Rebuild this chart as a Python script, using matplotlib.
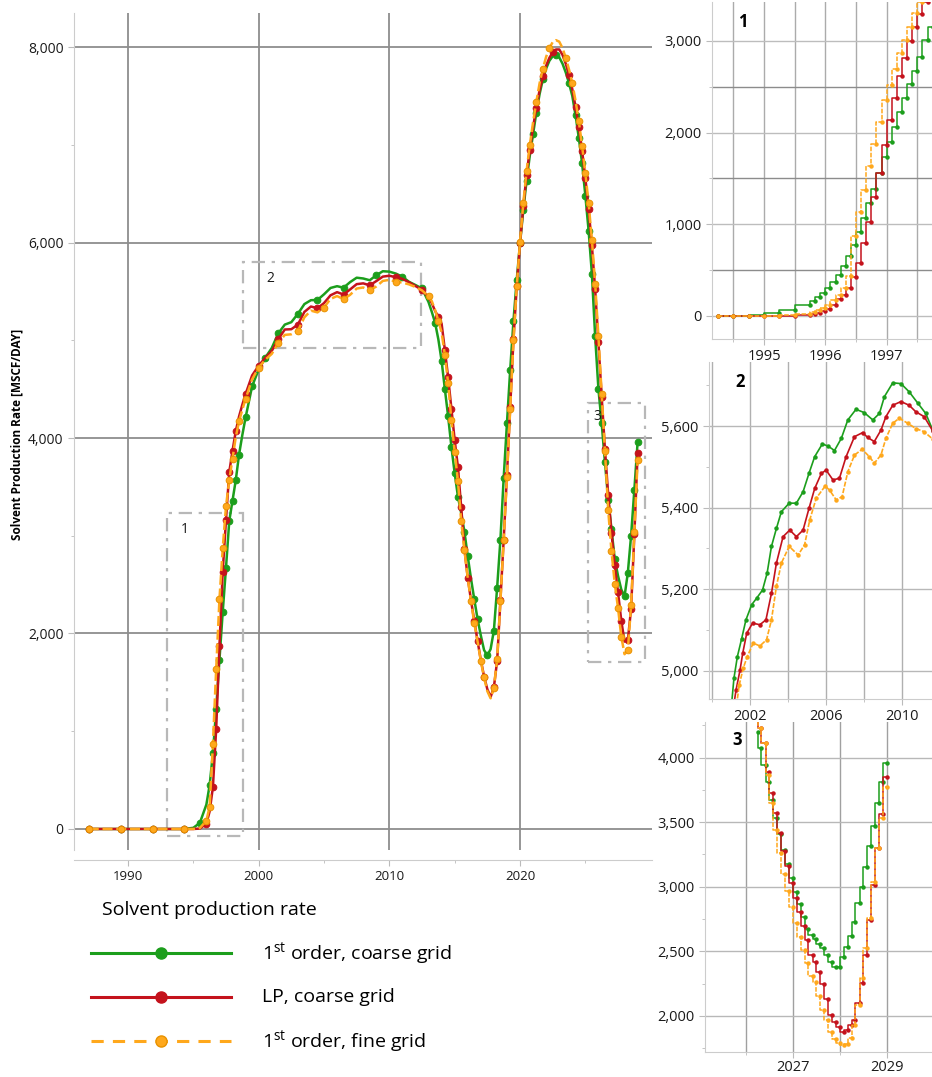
import matplotlib
matplotlib.use("Agg")
import matplotlib.pyplot as plt
from matplotlib.lines import Line2D
from matplotlib.patches import Rectangle
from matplotlib.ticker import MultipleLocator, FixedLocator, StrMethodFormatter

plt.rcParams['font.family'] = ['Open Sans', 'DejaVu Sans']
plt.rcParams['mathtext.fontset'] = 'custom'
plt.rcParams['mathtext.rm'] = 'Open Sans'
plt.rcParams['mathtext.it'] = 'Open Sans:italic'
plt.rcParams['mathtext.bf'] = 'Open Sans:bold'

# ---- main panel data (rate in MSCF/DAY) ----
years = [1987.0, 1989.5, 1991.9, 1994.3,
         1995.0, 1995.5, 1996.0, 1996.25, 1996.5, 1996.75, 1997.0, 1997.25, 1997.5, 1997.75,
         1998.0, 1998.25, 1998.5, 1998.75, 1999.0, 1999.5, 2000.0, 2000.5,
         2001.0, 2001.5, 2002.0, 2002.5, 2003.0, 2003.5, 2004.0, 2004.5, 2005.0, 2005.5,
         2006.0, 2006.5, 2007.0, 2007.5, 2008.0, 2008.5, 2009.0, 2009.5, 2010.0, 2010.5,
         2011.0, 2011.5, 2012.0, 2012.5, 2013.0, 2013.25, 2013.5, 2013.75,
         2014.0, 2014.25, 2014.5, 2014.75, 2015.0, 2015.25, 2015.5, 2015.75,
         2016.0, 2016.25, 2016.5, 2016.75, 2017.0, 2017.25, 2017.5, 2017.75,
         2018.0, 2018.25, 2018.5, 2018.75, 2019.0, 2019.25, 2019.5, 2019.75,
         2020.0, 2020.25, 2020.5, 2020.75, 2021.0, 2021.25, 2021.5, 2021.75,
         2022.0, 2022.25, 2022.5, 2022.75, 2023.0, 2023.25, 2023.5, 2023.75,
         2024.0, 2024.25, 2024.5, 2024.75, 2025.0, 2025.25, 2025.5, 2025.75,
         2026.0, 2026.25, 2026.5, 2026.75, 2027.0, 2027.25, 2027.5, 2027.75,
         2028.0, 2028.25, 2028.5, 2028.75, 2029.0]

first_coarse = [0, 0, 0, 0,
                12, 62, 250, 450, 775, 1230, 1730, 2220, 2670, 3150,
                3360, 3570, 3830, 4030, 4210, 4530, 4700, 4820,
                4920, 5070, 5160, 5185, 5270, 5370, 5410, 5412, 5470, 5535,
                5553, 5538, 5595, 5640, 5632, 5614, 5665, 5706, 5702, 5682,
                5650, 5598, 5565, 5530, 5390, 5290, 5180, 5010,
                4790, 4500, 4220, 3910, 3640, 3400, 3230, 3040,
                2790, 2560, 2350, 2150, 1980, 1830, 1775, 1840,
                2030, 2470, 2960, 3590, 4150, 4700, 5200, 5620,
                5990, 6330, 6630, 6890, 7110, 7330, 7520, 7670,
                7780, 7860, 7905, 7920, 7895, 7830, 7740, 7630,
                7500, 7300, 7070, 6810, 6480, 6120, 5680, 5040,
                4500, 4150, 3750, 3370, 3066, 2760, 2590, 2450,
                2382, 2620, 3001, 3471, 3961]

lp_coarse = [0, 0, 0, 0,
             0, 4, 55, 180, 430, 1022, 1870, 2630, 3160, 3650,
             3870, 4070, 4220, 4340, 4450, 4640, 4740, 4820,
             4890, 5010, 5110, 5113, 5160, 5290, 5345, 5328, 5380, 5460,
             5492, 5468, 5520, 5574, 5582, 5562, 5605, 5651, 5660, 5645,
             5628, 5594, 5555, 5515, 5440, 5380, 5300, 5240,
             5170, 4900, 4620, 4300, 3980, 3700, 3290, 2860,
             2570, 2340, 2130, 1925, 1730, 1560, 1430, 1350,
             1450, 1720, 2340, 2960, 3620, 4320, 5010, 5550,
             5990, 6370, 6690, 6950, 7180, 7380, 7560, 7700,
             7810, 7890, 7945, 7975, 7975, 7920, 7830, 7710,
             7570, 7390, 7180, 6940, 6660, 6340, 5970, 5520,
             4980, 4420, 3886, 3414, 3032, 2697, 2420, 2130,
             1917, 1930, 2253, 3014, 3848]

first_fine = [0, 0, 0, 0,
              0, 10, 85, 230, 870, 1635, 2350, 2870, 3300, 3570,
              3790, 4010, 4170, 4290, 4400, 4600, 4720, 4800,
              4860, 4970, 5055, 5061, 5095, 5235, 5303, 5285, 5335, 5423,
              5452, 5420, 5465, 5529, 5540, 5510, 5550, 5607, 5618, 5600,
              5590, 5572, 5545, 5510, 5450, 5400, 5310, 5200,
              5080, 4850, 4560, 4180, 3860, 3560, 3150, 2850,
              2570, 2330, 2110, 1920, 1720, 1550, 1410, 1337,
              1440, 1740, 2330, 2960, 3600, 4300, 5000, 5550,
              6010, 6400, 6730, 7000, 7230, 7440, 7630, 7780,
              7900, 7990, 8050, 8070, 8055, 7990, 7890, 7770,
              7630, 7450, 7240, 6990, 6710, 6400, 6030, 5580,
              5040, 4450, 3866, 3259, 2841, 2511, 2260, 1969,
              1788, 1827, 2291, 3035, 3775]

# ---- zoom 1: start of production (step data) ----
years_z1 = [1994.25, 1994.5, 1994.75, 1995.0, 1995.25, 1995.5, 1995.75,
            1995.83, 1995.92, 1996.0, 1996.08, 1996.17, 1996.25, 1996.33, 1996.42, 1996.5, 1996.58,
            1996.67, 1996.75, 1996.83, 1996.92, 1997.0, 1997.08, 1997.17, 1997.25, 1997.33, 1997.42,
            1997.5, 1997.58, 1997.67, 1997.75]
first_coarse_z1 = [0, 0, 3, 12, 30, 62, 118,
                   160, 205, 250, 305, 370, 450, 540, 650, 775, 920,
                   1065, 1230, 1390, 1560, 1730, 1900, 2060, 2220, 2380, 2530,
                   2670, 2820, 3010, 3150]
lp_coarse_z1 = [0, 0, 0, 0, 1, 4, 15,
                25, 38, 55, 80, 120, 180, 230, 300, 430, 580,
                800, 1022, 1296, 1560, 1860, 2140, 2380, 2620, 2810, 3000,
                3150, 3290, 3420, 3550]
first_fine_z1 = [0, 0, 0, 0, 2, 8, 25,
                 40, 60, 85, 120, 170, 230, 310, 440, 876, 1131,
                 1376, 1635, 1880, 2117, 2354, 2518, 2694, 2865, 3011, 3157,
                 3303, 3430, 3560, 3690]

# ---- zoom 2: plateau ----
years_z2_first_coarse = [2001.0, 2001.16, 2001.34, 2001.56, 2001.79, 2002.09, 2002.35, 2002.66, 2002.9,
                         2003.13, 2003.39, 2003.65, 2004.06, 2004.44, 2004.79, 2005.1, 2005.4, 2005.8,
                         2006.1, 2006.44, 2006.8, 2007.14, 2007.57, 2008.0, 2008.45, 2008.8, 2009.06,
                         2009.5, 2009.93, 2010.36, 2010.8, 2011.23, 2011.6]
first_coarse_z2 = [4900, 4982, 5035, 5078, 5125, 5162, 5178, 5198, 5239,
                   5305, 5349, 5390, 5411, 5411, 5439, 5484, 5525, 5556,
                   5551, 5540, 5570, 5615, 5641, 5633, 5615, 5631, 5672,
                   5706, 5704, 5684, 5657, 5631, 5590]
years_z2_lp_coarse = [2001.1, 2001.27, 2001.48, 2001.62, 2001.83, 2002.14, 2002.52, 2002.84, 2003.13,
                      2003.39, 2003.74, 2004.09, 2004.44, 2004.79, 2005.1, 2005.4, 2005.75, 2006.0,
                      2006.36, 2006.7, 2007.05, 2007.49, 2007.92, 2008.18, 2008.53, 2008.88, 2009.14,
                      2009.5, 2009.93, 2010.36, 2010.71, 2011.15, 2011.6]
lp_coarse_z2 = [4900, 4953, 5002, 5043, 5092, 5117, 5113, 5125, 5190,
                5264, 5329, 5345, 5329, 5345, 5398, 5447, 5484, 5492,
                5468, 5472, 5525, 5574, 5584, 5572, 5562, 5590, 5623,
                5651, 5660, 5651, 5635, 5623, 5588]
years_z2_first_fine = [2001.25, 2001.44, 2001.65, 2001.86, 2002.17, 2002.52, 2002.87, 2003.13, 2003.39,
                       2003.65, 2004.06, 2004.53, 2004.87, 2005.14, 2005.48, 2005.95, 2006.18, 2006.53,
                       2006.84, 2007.14, 2007.49, 2007.89, 2008.27, 2008.53, 2008.88, 2009.14, 2009.5,
                       2009.84, 2010.28, 2010.71, 2011.15, 2011.6]
first_fine_z2 = [4900, 4966, 5007, 5035, 5068, 5061, 5076, 5125, 5207,
                 5264, 5305, 5284, 5309, 5370, 5423, 5453, 5443, 5419,
                 5427, 5488, 5529, 5543, 5525, 5509, 5529, 5570, 5607,
                 5619, 5607, 5594, 5586, 5568]

# ---- zoom 3: second trough ----
years_z3 = [2026.25, 2026.33, 2026.42, 2026.5, 2026.58, 2026.67, 2026.75, 2026.83, 2026.92, 2027.0,
            2027.08, 2027.17, 2027.25, 2027.33, 2027.42, 2027.5, 2027.58, 2027.67, 2027.75, 2027.83,
            2027.92, 2028.0, 2028.08, 2028.17, 2028.25, 2028.33, 2028.42, 2028.5, 2028.58, 2028.67,
            2028.75, 2028.83, 2028.92, 2029.0]
first_coarse_z3 = [4200, 4072, 3943, 3814, 3672, 3530, 3409, 3285, 3177, 3066,
                   2957, 2864, 2764, 2673, 2630, 2596, 2560, 2524, 2470, 2415,
                   2376, 2382, 2459, 2537, 2620, 2730, 2877, 3001, 3156, 3316,
                   3471, 3646, 3809, 3961]
lp_coarse_z3 = [4380, 4230, 4111, 3886, 3724, 3569, 3414, 3277, 3164, 3032,
                2916, 2808, 2697, 2588, 2472, 2420, 2340, 2250, 2130, 2010,
                1950, 1917, 1878, 1891, 1930, 1969, 2098, 2253, 2472, 2743,
                3014, 3298, 3564, 3848]
first_fine_z3 = [4380, 4230, 4111, 3866, 3646, 3440, 3259, 3099, 2970, 2841,
                 2717, 2609, 2511, 2407, 2309, 2260, 2150, 2046, 1969, 1878,
                 1820, 1788, 1775, 1780, 1827, 1930, 2085, 2291, 2524, 2756,
                 3035, 3298, 3535, 3775]

# zoom windows marked on the main panel: label, x0, x1, y0, y1
zoom_boxes = [("1", 1993.0, 1998.8, -70, 3230),
              ("2", 1998.8, 2012.4, 4920, 5800),
              ("3", 2025.2, 2029.6, 1710, 4360)]
box_label_offsets = [(13, -12), (20, -12), (7, -10)]

labels = ["1$^{\\mathrm{st}}$ order, coarse grid", "LP, coarse grid", "1$^{\\mathrm{st}}$ order, fine grid"]
colors = ["#1c9e1c", "#c4121c", "#ffa81c"]
edge_colors = ["#1c9e1c", "#c4121c", "#e89200"]
styles = ["-", "-", (0, (4, 1.5))]

W, H = 932, 1077


def px_rect(x0, x1, y0, y1):
    return [x0 / W, 1 - y1 / H, (x1 - x0) / W, (y1 - y0) / H]


def style_axes(ax, labelsize):
    for s in ["top", "right"]:
        ax.spines[s].set_visible(False)
    for s in ["left", "bottom"]:
        ax.spines[s].set_color("#cccccc")
    ax.tick_params(which="both", colors="#bbbbbb", labelcolor="#1a1a1a",
                   labelsize=labelsize, length=4)
    ax.tick_params(which="minor", length=2.5)
    ax.yaxis.set_major_formatter(StrMethodFormatter("{x:,.0f}"))
    ax.set_axisbelow(True)


fig = plt.figure(figsize=(W / 100, H / 100), dpi=100)

# ---------------- main panel ----------------
ax = fig.add_axes(px_rect(74, 652, 13, 850))
style_axes(ax, 10)
ax.spines["bottom"].set_position(("outward", 7))
ax.set_xlim(1985.87, 2030.1)
ax.set_ylim(-215, 8348)
ax.xaxis.set_major_locator(FixedLocator([1990, 2000, 2010, 2020]))
ax.xaxis.set_minor_locator(FixedLocator([1995, 2005, 2015, 2025]))
ax.yaxis.set_major_locator(MultipleLocator(2000))
ax.yaxis.set_minor_locator(MultipleLocator(1000))
ax.xaxis.set_major_formatter(StrMethodFormatter("{x:.0f}"))
ax.tick_params(axis="x", labelsize=9.5)
ax.grid(which="major", color="#8e8e8e", lw=1.3)

main_series = [first_coarse, lp_coarse, first_fine]
for vals, c, ec, ls in zip(main_series, colors, edge_colors, styles):
    ax.plot(years, vals, color=c, lw=1.8, ls=ls, marker="o", ms=4.8,
            mfc=c, mec=ec, mew=0.7, markevery=0.03)

for (name, x0, x1, y0, y1), off in zip(zoom_boxes, box_label_offsets):
    ax.add_patch(Rectangle((x0, y0), x1 - x0, y1 - y0, fill=False,
                           ec="#b8b8b8", lw=1.6, ls=(0, (6, 3, 1.5, 3)), zorder=1))
    ax.annotate(name, (x0, y1), xytext=off, textcoords="offset points",
                fontsize=10, ha="center", va="center", color="#1a1a1a")

fig.text(17 / W, 1 - 434 / H, "Solvent Production Rate [MSCF/DAY]", rotation=90,
         fontsize=8.5, fontweight="bold", ha="center", va="center")

# ---------------- zoom panels ----------------
ax1 = fig.add_axes(px_rect(712, 932, 2, 339))
style_axes(ax1, 10.5)
ax1.set_xlim(1994.15, 1997.74)
ax1.set_ylim(-251, 3425)
ax1.xaxis.set_major_locator(FixedLocator([1995, 1996, 1997]))
ax1.xaxis.set_minor_locator(MultipleLocator(0.5))
ax1.xaxis.set_major_formatter(StrMethodFormatter("{x:.0f}"))
ax1.yaxis.set_major_locator(MultipleLocator(1000))
ax1.yaxis.set_minor_locator(MultipleLocator(500))
ax1.grid(which="both", axis="x", color="#ababab", lw=1.0)
ax1.grid(which="major", axis="y", color="#bdbdbd", lw=1.0)
ax1.grid(which="minor", axis="y", color="#8c8c8c", lw=1.0)
for vals, c, ls in zip([first_coarse_z1, lp_coarse_z1, first_fine_z1], colors, styles):
    ax1.step(years_z1, vals, where="pre", color=c, lw=1.1,
             ls=ls if ls == "-" else (0, (3, 1)), marker="o", ms=2.2)
ax1.text(0.12, 0.925, "1", transform=ax1.transAxes, fontsize=12, fontweight="bold")

ax2 = fig.add_axes(px_rect(709, 932, 362, 699))
style_axes(ax2, 10.5)
ax2.set_xlim(1999.85, 2011.56)
ax2.set_ylim(4931, 5757)
ax2.xaxis.set_major_locator(FixedLocator([2002, 2006, 2010]))
ax2.xaxis.set_minor_locator(FixedLocator([2000, 2004, 2008]))
ax2.xaxis.set_major_formatter(StrMethodFormatter("{x:.0f}"))
ax2.yaxis.set_major_locator(MultipleLocator(200))
ax2.yaxis.set_minor_locator(MultipleLocator(100))
ax2.grid(which="both", axis="x", color="#b0b0b0", lw=1.0)
ax2.grid(which="major", axis="y", color="#b8b8b8", lw=1.0)
z2 = [(years_z2_first_coarse, first_coarse_z2), (years_z2_lp_coarse, lp_coarse_z2),
      (years_z2_first_fine, first_fine_z2)]
for (xs, vals), c, ls in zip(z2, colors, styles):
    ax2.plot(xs, vals, color=c, lw=1.2, ls=ls if ls == "-" else (0, (3, 1)),
             marker="o", ms=2.2)
ax2.text(0.12, 0.925, "2", transform=ax2.transAxes, fontsize=12, fontweight="bold")

ax3 = fig.add_axes(px_rect(705, 932, 722, 1052))
style_axes(ax3, 10.5)
ax3.tick_params(axis="x", pad=1.5)
ax3.set_xlim(2025.13, 2029.96)
ax3.set_ylim(1720, 4276)
ax3.xaxis.set_major_locator(FixedLocator([2027, 2029]))
ax3.xaxis.set_minor_locator(FixedLocator([2026, 2028]))
ax3.xaxis.set_major_formatter(StrMethodFormatter("{x:.0f}"))
ax3.yaxis.set_major_locator(MultipleLocator(500))
ax3.yaxis.set_minor_locator(MultipleLocator(250))
ax3.grid(which="both", axis="x", color="#a0a0a0", lw=1.0)
ax3.grid(which="major", axis="y", color="#b8b8b8", lw=1.0)
for vals, c, ls in zip([first_coarse_z3, lp_coarse_z3, first_fine_z3], colors, styles):
    ax3.step(years_z3, vals, where="pre", color=c, lw=1.1,
             ls=ls if ls == "-" else (0, (3, 1)), marker="o", ms=2.2)
ax3.text(0.12, 0.93, "3", transform=ax3.transAxes, fontsize=12, fontweight="bold")

# ---------------- legend ----------------
fig.text(102 / W, 1 - 910 / H, "Solvent production rate", fontsize=14, va="center")
for i, (lab, c, ec, ls) in enumerate(zip(labels, colors, edge_colors, styles)):
    yf = 1 - (953 + 44 * i) / H
    fig.add_artist(Line2D([91 / W, 231 / W], [yf, yf], transform=fig.transFigure,
                          color=c, lw=2.2, ls=ls if ls == "-" else (0, (4, 3))))
    fig.add_artist(Line2D([161 / W], [yf], transform=fig.transFigure, marker="o",
                          ms=8, color=c, mec=ec))
    fig.text(262 / W, yf, lab, fontsize=14, va="center")

fig.savefig("out.png", dpi=100)
